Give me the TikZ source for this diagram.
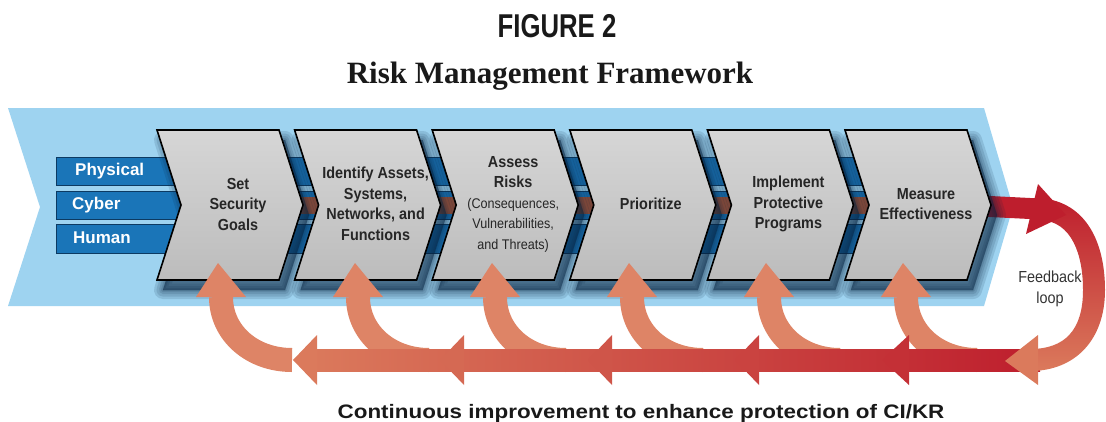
\documentclass[tikz,border=0pt]{standalone}
\usepackage{fontspec}
\setmainfont{Liberation Sans}
\newfontfamily\chevfont[FakeStretch=0.9]{Liberation Sans}
\newfontfamily\figfont[FakeStretch=0.78]{Liberation Sans}
\newfontfamily\serffont{Liberation Serif}
\newfontfamily\capfont[FakeStretch=1.15]{Liberation Sans}
\newcommand\parensize{\mdseries\fontsize{14}{18}\selectfont}
\usetikzlibrary{arrows.meta,positioning}
\definecolor{skyblue}{RGB}{158,211,240}
\definecolor{barblue}{RGB}{26,117,184}
\definecolor{bardark}{RGB}{12,58,98}
\definecolor{stripebrown}{RGB}{160,82,55}
\definecolor{chevlight}{RGB}{214,214,214}
\definecolor{chevdark}{RGB}{188,188,188}
\definecolor{loopred}{RGB}{190,30,45}
\definecolor{salmon}{RGB}{219,122,92}
\definecolor{armsalmon}{RGB}{222,132,102}
\definecolor{shadowblue}{RGB}{8,36,64}
\tikzset{%
	chev/.style={draw=black, line width=1.6pt, line join=miter, top color=chevlight, bottom color=chevdark},
	chevshade/.style={draw=shadowblue, fill=shadowblue, opacity=0.13, line join=round},
	chevtxt/.style={align=center, text=black!85, font=\chevfont\bfseries\fontsize{16}{20.5}\selectfont},
	bar/.style={draw=bardark, line width=1pt, fill=barblue},
	bartxt/.style={anchor=west, inner sep=0pt, text=white, font=\bfseries\fontsize{17}{17}\selectfont},
	arm/.style={draw=armsalmon, line width=24pt},
	armhead/.style={fill=armsalmon, line join=miter},
	bandhead/.style={line join=miter}
}

\begin{document}
\begin{tikzpicture}[x=1pt, y=-1pt]
	\useasboundingbox (0,0) rectangle (1106,421);

	% light blue backdrop
	\fill[skyblue] (8,108) -- (984,108) -- (1013,207) -- (984,306) -- (8,306) -- (40,207) -- cycle;

	% physical / cyber / human bars
	\draw[bar] (56,157) rectangle (960,185);
	\draw[bar] (56,191) rectangle (960,219);
	\draw[bar] (56,224) rectangle (960,253);
	\fill[stripebrown] (285,197) rectangle (960,214);
	\node[bartxt] (physical) at (75,171) {Physical};
	\node[bartxt] (cyber) at (72,205) {Cyber};
	\node[bartxt] (human) at (73,238) {Human};

	% feedback out of the last step
	\coordinate (looptop) at (1040,209);
	\draw[loopred, line width=21pt] (980,206) -- (looptop);

	% steps, soft shadow first
	\foreach \i in {0,...,5} {
		\pgfmathsetmacro\L{157+137.6*\i}
		\foreach \w in {18,13,8,4,1}
			\draw[chevshade, line width=\w pt] (\L+6,140) -- ++(122,0) -- ++(24,75) -- ++(-24,75) -- ++(-122,0) -- ++(24,-75) -- cycle;
	}
	\foreach \i in {0,...,5} {
		\pgfmathsetmacro\L{157+137.6*\i}
		\draw[chev] (\L,130) -- ++(122,0) -- ++(24,75) -- ++(-24,75) -- ++(-122,0) -- ++(24,-75) -- cycle;
	}
	\begin{scope}[node distance=137.6pt]
		\node[chevtxt] (goals) at (238,204) {Set\\Security\\Goals};
		\node[chevtxt] (assets) [right of=goals] {Identify Assets,\\Systems,\\Networks, and\\Functions};
		\node[chevtxt] (risks) [right of=assets] {Assess\\Risks\\\parensize(Consequences,\\\parensize Vulnerabilities,\\\parensize and Threats)};
		\node[chevtxt] (prioritize) [right of=risks] {Prioritize};
		\node[chevtxt] (implement) [right of=prioritize] {Implement\\Protective\\Programs};
		\node[chevtxt] (measure) [right of=implement] {Measure\\Effectiveness};
	\end{scope}

	% arms back up into each step
	\foreach \i in {0,...,5} {
		\pgfmathsetmacro\tx{218+137*\i}
		\coordinate (head\i) at (\tx,263);
		\coordinate (neck\i) at (\tx+3,297);
		\coordinate (foot\i) at (\tx+74,360);
		\draw[arm] (foot\i) .. controls +(-40,0) and +(0,36) .. (neck\i);
		\fill[armhead] (head\i) -- ([xshift=-25pt]neck\i) -- ([xshift=25pt]neck\i) -- cycle;
	}

	% continuous improvement band
	\coordinate (bandleft) at (305,349);
	\coordinate (bandright) at (1040,371);
	\shade[left color=salmon, right color=loopred] (bandleft) rectangle (bandright);
	\foreach \t/\len in {293/24,440/24,588/24,735/24,882/27} {
		\pgfmathtruncatemacro\pct{min(100,(\t+12-305)/7.35)}
		\fill[bandhead, loopred!\pct!salmon] (\t,360) -- (\t+\len,335) -- (\t+\len,385) -- cycle;
	}

	% feedback loop
	\coordinate (loopright) at (1094,290);
	\coordinate (loopbottom) at (1030,360);
	\shade[top color=loopred, bottom color=salmon]
		(1040,198) .. controls (1088,202) and (1105,245) .. (1105,290)
		.. controls (1105,340) and (1075,371) .. (1030,371) -- (1030,349)
		.. controls (1065,349) and (1083,330) .. (1083,290)
		.. controls (1083,255) and (1072,221) .. (1040,220) -- cycle;
	\fill[bandhead, loopred] (1038,184) -- (1066,215) -- (1026,234) -- cycle;
	\fill[bandhead, salmon] (1005,361) -- (1038,335) -- (1038,385) -- cycle;
	\node[align=center, text=black!80, font=\chevfont\fontsize{16}{21}\selectfont] (feedback) at (1050,289) {Feedback\\loop};

	% headings
	\node[anchor=base, text=black!90, font=\figfont\bfseries\fontsize{33}{33}\selectfont] (figno) at (557,37) {FIGURE 2};
	\node[anchor=base, text=black!90, font=\serffont\bfseries\fontsize{31}{31}\selectfont] (figtitle) at (550,83) {Risk Management Framework};
	\node[anchor=base, text=black!90, font=\capfont\bfseries\fontsize{19.5}{19.5}\selectfont] (caption) at (641,418) {Continuous improvement to enhance protection of CI/KR};
\end{tikzpicture}
\end{document}
